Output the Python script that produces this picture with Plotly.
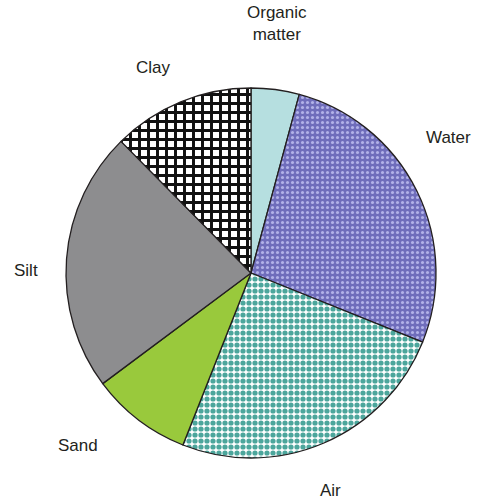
import plotly.graph_objects as go

labels = ["Organic matter", "Water", "Air", "Sand", "Silt", "Clay"]
label_text = ["Organic<br>matter", "Water", "Air", "Sand", "Silt", "Clay"]
values = [4.2, 26.9, 24.9, 8.8, 22.8, 12.4]
colors = ["#b6dfe0", "#6f6dbb", "#ffffff", "#99c93c", "#8d8d8f", "#ffffff"]
shapes = ["", ".", ".", "", "", "+"]
fgcolors = ["#b6dfe0", "#b2b2e8", "#4ca69c", "#99c93c", "#8d8d8f", "#111111"]
sizes = [6, 5, 6, 6, 6, 9]
solidity = [0.3, 0.3, 0.6, 0.3, 0.3, 0.55]

W, H = 480, 503
cx, cy, R = 251, 273, 185

fig = go.Figure(go.Pie(
    labels=labels, values=values, sort=False, direction="clockwise", rotation=0,
    textinfo="none", hoverinfo="skip", showlegend=False,
    marker=dict(colors=colors, line=dict(color="#231f20", width=1.3),
                pattern=dict(shape=shapes, fgcolor=fgcolors, bgcolor=colors,
                             size=sizes, solidity=solidity, fillmode="replace")),
    domain=dict(x=[(cx - R) / W, (cx + R) / W], y=[(H - cy - R) / H, (H - cy + R) / H]),
))

# label anchor positions (pixels)
label_pos = [(277, 23), (448, 138), (330, 490), (78, 445), (26, 270), (153, 67)]
for t, (px, py) in zip(label_text, label_pos):
    fig.add_annotation(x=px / W, y=1 - py / H, xref="paper", yref="paper", text=t,
                       showarrow=False, font=dict(family="Liberation Sans, Arial", size=17, color="#231f20"),
                       xanchor="center", yanchor="middle")

fig.update_layout(width=W, height=H, margin=dict(l=0, r=0, t=0, b=0),
                  paper_bgcolor="white", plot_bgcolor="white")
fig.write_html("out.html", config={"displayModeBar": False},
               post_script="document.body.style.margin='0';")
